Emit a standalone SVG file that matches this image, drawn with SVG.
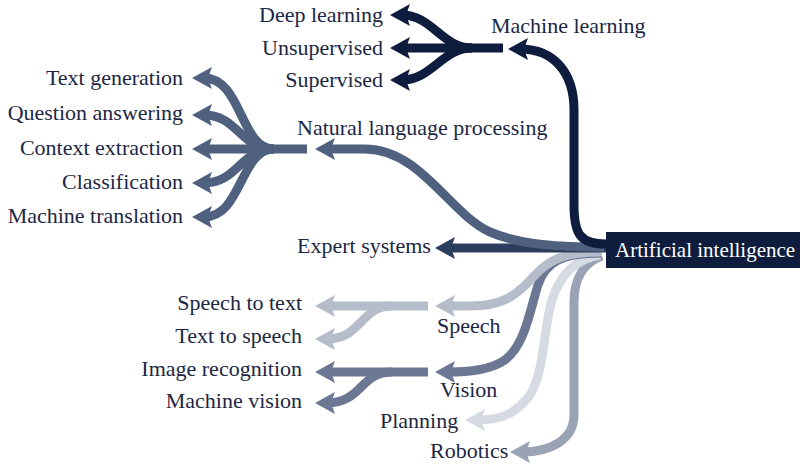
<svg xmlns="http://www.w3.org/2000/svg" width="800" height="465" viewBox="0 0 800 465">
  <style>
    text { font-family: "Liberation Serif", "Times New Roman", serif; font-size: 22px; fill: #1c2745; }
    .r { text-anchor: end; }
    .c { fill: none; stroke-width: 9; stroke-linecap: butt; }
    .ml { stroke: #0e1c3e; }
    .es { stroke: #2c3d5f; }
    .nlp { stroke: #506180; }
    .vis { stroke: #6c7893; }
    .rob { stroke: #9aa3b5; }
    .sp { stroke: #b5bdcb; }
    .pl { stroke: #d6dae2; }
  </style>
  <defs>
    <!-- one arrowhead per colour; tip sits 12px past the path end -->
    <marker id="a-ml" markerUnits="userSpaceOnUse" markerWidth="22" markerHeight="24" viewBox="0 -12 22 24" refX="8" refY="0" orient="auto"><path d="M0,-11 L20,0 L0,11 L4,0 Z" fill="#0e1c3e"/></marker>
    <marker id="a-es" markerUnits="userSpaceOnUse" markerWidth="22" markerHeight="24" viewBox="0 -12 22 24" refX="8" refY="0" orient="auto"><path d="M0,-11 L20,0 L0,11 L4,0 Z" fill="#2c3d5f"/></marker>
    <marker id="a-nlp" markerUnits="userSpaceOnUse" markerWidth="22" markerHeight="24" viewBox="0 -12 22 24" refX="8" refY="0" orient="auto"><path d="M0,-11 L20,0 L0,11 L4,0 Z" fill="#506180"/></marker>
    <marker id="a-vis" markerUnits="userSpaceOnUse" markerWidth="22" markerHeight="24" viewBox="0 -12 22 24" refX="8" refY="0" orient="auto"><path d="M0,-11 L20,0 L0,11 L4,0 Z" fill="#6c7893"/></marker>
    <marker id="a-rob" markerUnits="userSpaceOnUse" markerWidth="22" markerHeight="24" viewBox="0 -12 22 24" refX="8" refY="0" orient="auto"><path d="M0,-11 L20,0 L0,11 L4,0 Z" fill="#9aa3b5"/></marker>
    <marker id="a-sp" markerUnits="userSpaceOnUse" markerWidth="22" markerHeight="24" viewBox="0 -12 22 24" refX="8" refY="0" orient="auto"><path d="M0,-11 L20,0 L0,11 L4,0 Z" fill="#b5bdcb"/></marker>
    <marker id="a-pl" markerUnits="userSpaceOnUse" markerWidth="22" markerHeight="24" viewBox="0 -12 22 24" refX="8" refY="0" orient="auto"><path d="M0,-11 L20,0 L0,11 L4,0 Z" fill="#d6dae2"/></marker>
  </defs>

  <g id="connectors">
    <!-- branches leaving the root -->
    <path class="c rob" marker-end="url(#a-rob)" d="M602,256 C585,262 574,277 574,302 L574,415 C574,440 550,452 522,452"/>
    <path class="c pl" marker-end="url(#a-pl)" d="M600,255 C575,259 560,275 552,300 C543,330 545,370 530,395 C515,415 500,420 477,420"/>
    <path class="c vis" marker-end="url(#a-vis)" d="M602,253 C560,253 545,263 538,285 C530,310 525,345 505,360 C490,370 470,372 447,372"/>
    <path class="c sp" marker-end="url(#a-sp)" d="M602,252 C565,252 550,259 535,275 C515,298 500,306 470,306 L447,306"/>
    <path class="c es" marker-end="url(#a-es)" d="M606,248 L447,248"/>
    <path class="c nlp" marker-end="url(#a-nlp)" d="M604,247 C560,247 520,245 490,232 C450,214 420,149 365,149 L327,149"/>
    <path class="c ml" marker-end="url(#a-ml)" d="M606,244 C580,244 574,234 574,205 L574,110 C574,74 555,49 520,49"/>

    <!-- machine learning fan -->
    <path class="c ml" marker-end="url(#a-ml)" d="M503,48 L402,48"/>
    <path class="c ml" marker-end="url(#a-ml)" d="M472,48 C442,48 432,15 402,15"/>
    <path class="c ml" marker-end="url(#a-ml)" d="M472,48 C442,48 432,80 402,80"/>

    <!-- natural language processing fan -->
    <path class="c nlp" marker-end="url(#a-nlp)" d="M307,149 L204,149"/>
    <path class="c nlp" marker-end="url(#a-nlp)" d="M274,149 C240,149 242,78 204,78"/>
    <path class="c nlp" marker-end="url(#a-nlp)" d="M274,149 C240,149 238,115 204,115"/>
    <path class="c nlp" marker-end="url(#a-nlp)" d="M274,149 C240,149 238,183 204,183"/>
    <path class="c nlp" marker-end="url(#a-nlp)" d="M274,149 C240,149 242,217 204,217"/>

    <!-- speech fan -->
    <path class="c sp" marker-end="url(#a-sp)" d="M428,306 L327,306"/>
    <path class="c sp" marker-end="url(#a-sp)" d="M392,306 C360,306 362,339 327,339"/>

    <!-- vision fan -->
    <path class="c vis" marker-end="url(#a-vis)" d="M428,372 L327,372"/>
    <path class="c vis" marker-end="url(#a-vis)" d="M392,372 C360,372 362,403 327,403"/>
  </g>

  <g id="ai">
    <rect x="606" y="232" width="194" height="36" fill="#0e1c3e"/>
    <text x="615" y="257" style="fill:#ffffff;font-size:21px">Artificial intelligence</text>
  </g>

  <g id="ml"><text x="491" y="33">Machine learning</text></g>
  <g id="deep"><text class="r" x="383" y="22">Deep learning</text></g>
  <g id="unsup"><text class="r" x="383" y="55">Unsupervised</text></g>
  <g id="sup"><text class="r" x="383" y="87">Supervised</text></g>

  <g id="nlp"><text x="297" y="135">Natural language processing</text></g>
  <g id="textgen"><text class="r" x="183" y="85">Text generation</text></g>
  <g id="qa"><text class="r" x="183" y="120">Question answering</text></g>
  <g id="context"><text class="r" x="183" y="155">Context extraction</text></g>
  <g id="classif"><text class="r" x="183" y="189">Classification</text></g>
  <g id="mt"><text class="r" x="183" y="223">Machine translation</text></g>

  <g id="expert"><text x="297" y="253">Expert systems</text></g>

  <g id="speech"><text x="437" y="333">Speech</text></g>
  <g id="stt"><text class="r" x="302" y="310">Speech to text</text></g>
  <g id="tts"><text class="r" x="302" y="343">Text to speech</text></g>

  <g id="vision"><text x="440" y="397">Vision</text></g>
  <g id="imgrec"><text class="r" x="302" y="376">Image recognition</text></g>
  <g id="mvision"><text class="r" x="302" y="408">Machine vision</text></g>

  <g id="planning"><text x="380" y="428">Planning</text></g>
  <g id="robotics"><text x="430" y="458">Robotics</text></g>
</svg>
